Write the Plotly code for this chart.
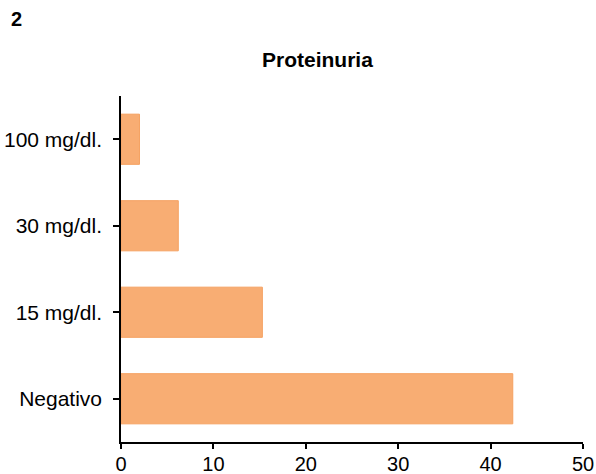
import plotly.graph_objects as go

categories = ["Negativo", "15 mg/dl.", "30 mg/dl.", "100 mg/dl."]
values = [42.4, 15.3, 6.2, 2.0]
x_ticks = [0, 10, 20, 30, 40, 50]

W, H = 596, 474
L, R, T, B = 121, 13, 96, 32
PW, PH = W - L - R, H - T - B

fig = go.Figure(go.Bar(
    x=values, y=categories, orientation="h",
    marker=dict(color="#F8AD73", line=dict(color="#F5A262", width=1)),
    width=0.58,
))

font = "Liberation Sans, Arial, sans-serif"
fig.update_layout(
    width=W, height=H,
    margin=dict(l=L, r=R, t=T, b=B),
    paper_bgcolor="white", plot_bgcolor="white",
    showlegend=False,
    font=dict(family=font, size=21, color="black"),
    xaxis=dict(range=[0, 50], tickvals=x_ticks, showgrid=False, zeroline=False,
               showline=True, linecolor="black", linewidth=1.5, automargin=False,
               ticks="outside", ticklen=5, tickwidth=1.5, tickcolor="black",
               ticklabelstandoff=-2, tickfont=dict(size=20)),
    yaxis=dict(range=[-0.5, 3.5], showgrid=False, zeroline=False,
               showline=True, linecolor="black", linewidth=1.5, automargin=False,
               ticks="outside", ticklen=6, tickwidth=1.5, tickcolor="black",
               ticklabelstandoff=7, tickfont=dict(size=21)),
    annotations=[
        dict(text="<b>Proteinuria</b>", xref="paper", yref="paper",
             x=(317 - L) / PW, y=1 + (T - 59) / PH, xanchor="center", yanchor="middle",
             showarrow=False, font=dict(size=21, family=font)),
        dict(text="<b>2</b>", xref="paper", yref="paper",
             x=(9 - L) / PW, y=1 + (T - 19) / PH, xanchor="left", yanchor="middle",
             showarrow=False, font=dict(size=20, family=font)),
    ],
)

fig.write_html(
    "out.html",
    config={"displayModeBar": False},
    post_script="document.body.style.margin='0';document.body.style.overflow='hidden';",
)
